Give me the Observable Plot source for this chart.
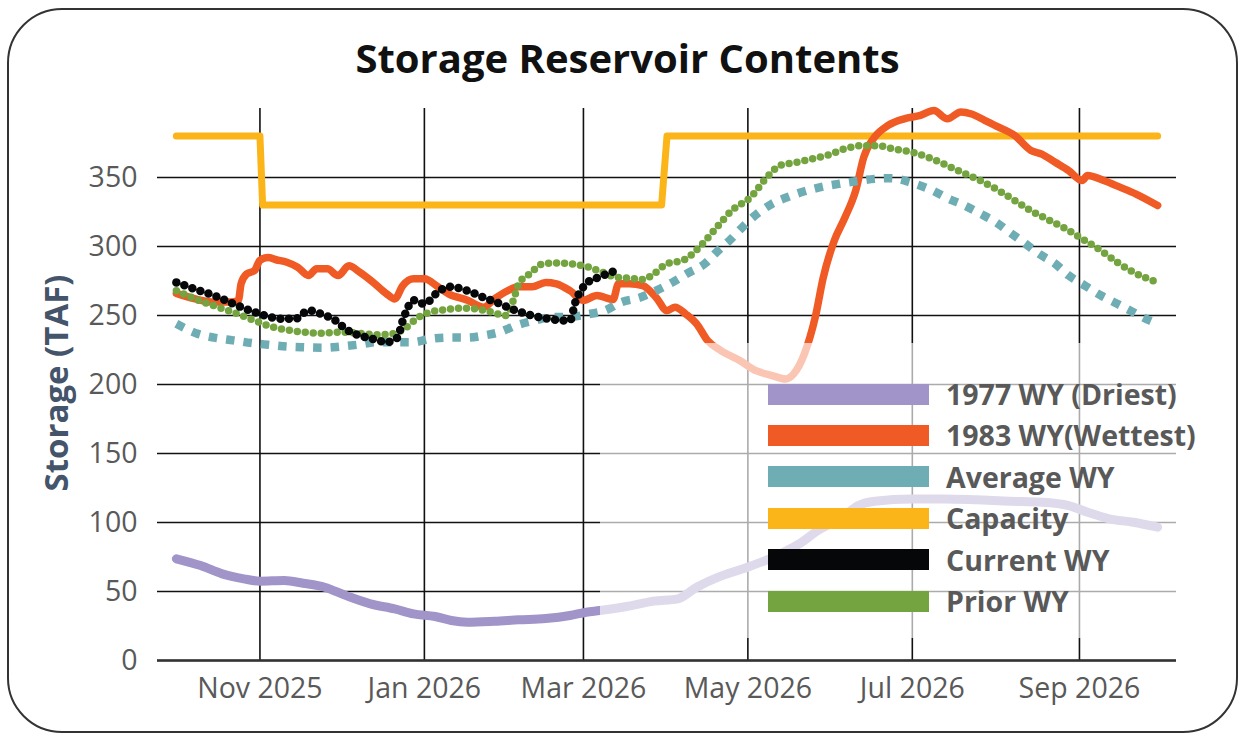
<!DOCTYPE html>
<html>
<head>
<meta charset="utf-8">
<script src="https://cdn.jsdelivr.net/npm/d3@7"></script>
<script src="https://cdn.jsdelivr.net/npm/@observablehq/plot@0.6"></script>
<style>
html, body { margin: 0; padding: 0; background: #fff; }
#wrap { position: relative; width: 1245px; height: 741px; overflow: hidden; font-family: 'Open Sans', sans-serif; }
#frame { position: absolute; left: 7px; top: 8px; width: 1231px; height: 725px; box-sizing: border-box; border: 2px solid #333; border-radius: 55px; }
#chart { position: absolute; left: 0; top: 0; }
#title { position: absolute; left: 5px; width: 1245px; top: 34px; text-align: center; font-size: 40px; line-height: 48px; font-weight: 700; color: #111; }
#ylabel { position: absolute; left: -144px; width: 400px; top: 363px; height: 40px; line-height: 40px; text-align: center; font-size: 33px; font-weight: 700; color: #44546a; transform: rotate(-90deg); transform-origin: 200px 20px; }
#veil { position: absolute; left: 600px; top: 343px; width: 600px; height: 295px; background: rgba(255,255,255,0.65); }
.lrow { position: absolute; left: 768px; height: 30px; display: flex; align-items: center; }
.lsw { width: 161px; height: 21px; margin-right: 17px; }
.ltx { font-size: 28.5px; font-weight: 700; color: #595959; white-space: nowrap; line-height: 30px; }
</style>
</head>
<body>
<div id="wrap">
  <div id="frame"></div>
  <div id="chart"></div>
  <div id="title"></div>
  <div id="ylabel"></div>
  <div id="veil"></div>
  <div id="legend"></div>
</div>
<script>
// ---- text ----
const titleText = "Storage Reservoir Contents";
const yLabelText = "Storage (TAF)";

// ---- tick labels ----
const yTicks = [0, 50, 100, 150, 200, 250, 300, 350];
const xTickDates = ["2025-11-01", "2026-01-01", "2026-03-01", "2026-05-01", "2026-07-01", "2026-09-01"];
const xDomain = ["2025-09-24", "2026-10-07"];

// ---- legend ----
const legendLabels = ["1977 WY (Driest)", "1983 WY(Wettest)", "Average WY", "Capacity", "Current WY", "Prior WY"];
const legendColors = ["#a194c9", "#f05a24", "#6fadb5", "#fbb519", "#050709", "#74a43f"];

// ---- series ----
const capacityDates = ["2025-10-01", "2025-11-01", "2025-11-02", "2026-03-30", "2026-04-01", "2026-09-30"];
const capacityValues = [380, 380, 330, 330, 380, 380];

const driestDates = ["2025-10-01","2025-10-10","2025-10-18","2025-10-26","2025-11-01","2025-11-10","2025-11-17","2025-11-25","2025-12-03","2025-12-12","2025-12-21","2025-12-28","2026-01-05","2026-01-11","2026-01-17","2026-01-27","2026-02-05","2026-02-15","2026-02-24","2026-03-02","2026-03-07","2026-03-17","2026-03-27","2026-04-05","2026-04-12","2026-04-20","2026-04-29","2026-05-09","2026-05-20","2026-05-27","2026-06-05","2026-06-11","2026-06-17","2026-07-01","2026-07-13","2026-07-25","2026-08-06","2026-08-18","2026-08-28","2026-09-04","2026-09-12","2026-09-21","2026-09-30"];
const driestValues = [73.7,68.8,62.8,59.2,57.5,58,56,53.1,47,41,37.4,33.8,31.9,29,27.8,28.5,29.5,30.4,32.6,35,36.2,39.1,43,44.7,53.1,60.4,66.4,73.7,84.5,94.2,103.9,112.3,115.4,117.1,117.1,116.4,115.4,114.7,112.3,107.5,102.7,100.2,96.6];

const wettestDates = ["2025-10-01","2025-10-08","2025-10-15","2025-10-21","2025-10-24","2025-10-25","2025-10-27","2025-10-30","2025-11-01","2025-11-04","2025-11-07","2025-11-11","2025-11-15","2025-11-19","2025-11-22","2025-11-26","2025-11-30","2025-12-04","2025-12-08","2025-12-13","2025-12-18","2025-12-21","2025-12-24","2025-12-28","2026-01-01","2026-01-06","2026-01-10","2026-01-17","2026-01-23","2026-01-27","2026-02-01","2026-02-05","2026-02-10","2026-02-15","2026-02-19","2026-02-24","2026-03-01","2026-03-06","2026-03-12","2026-03-14","2026-03-18","2026-03-23","2026-03-28","2026-04-01","2026-04-04","2026-04-08","2026-04-12","2026-04-16","2026-04-21","2026-04-28","2026-05-04","2026-05-10","2026-05-15","2026-05-18","2026-05-22","2026-05-26","2026-05-29","2026-06-02","2026-06-06","2026-06-10","2026-06-13","2026-06-17","2026-06-22","2026-06-28","2026-07-04","2026-07-09","2026-07-14","2026-07-19","2026-07-23","2026-07-28","2026-08-02","2026-08-08","2026-08-14","2026-08-18","2026-08-23","2026-08-28","2026-09-02","2026-09-04","2026-09-10","2026-09-16","2026-09-22","2026-09-30"];
const wettestValues = [266,262,259.7,259.7,261,273,280,282.6,290,292,290.4,288.6,285,279,283.8,283.8,279,286,281.4,274,265.7,262,271.7,276.6,276.6,270.8,265.7,261,256,262,268,270.8,270.8,274,273,268,261,264.5,261.6,273,273,271.7,263,253.6,256,251,244,232,224.6,217.4,210,206.5,204,207.7,222.4,248.8,277.8,304,321,340.6,364.7,379.2,387.7,392.5,395,398.5,392.5,397.5,396,391.3,386.5,380.4,369.6,367,361,355,347.8,351.4,347.8,343,338,329.7];

const averageDates = ["2025-10-01","2025-10-09","2025-10-15","2025-10-22","2025-10-29","2025-11-04","2025-11-11","2025-11-17","2025-11-25","2025-12-01","2025-12-08","2025-12-14","2025-12-28","2026-01-03","2026-01-10","2026-01-17","2026-01-23","2026-01-29","2026-02-04","2026-02-11","2026-02-17","2026-02-24","2026-03-03","2026-03-09","2026-03-15","2026-03-22","2026-03-28","2026-04-03","2026-04-09","2026-04-15","2026-04-20","2026-04-24","2026-04-29","2026-05-04","2026-05-10","2026-05-16","2026-05-22","2026-05-28","2026-06-04","2026-06-11","2026-06-17","2026-06-23","2026-07-01","2026-07-08","2026-07-14","2026-07-20","2026-07-26","2026-08-01","2026-08-06","2026-08-12","2026-08-17","2026-08-23","2026-08-28","2026-09-03","2026-09-09","2026-09-15","2026-09-21","2026-09-27","2026-09-30"];
const averageValues = [244,236.7,234,232,230,228.8,227.5,227,226.6,227.5,229,230.7,230.7,233,234,234,235.5,238,242.8,246.4,248.8,249,251,253.6,259.6,263,268,274,281,287.5,297,304,314,323,331,336,340,343,345.5,347.5,349,349.5,346,341,335,330,324,317.6,310.4,302,294.7,287.5,279,271.7,264.5,258.5,252.4,246.4,244];

const currentDates = ["2025-10-01","2025-10-08","2025-10-15","2025-10-22","2025-10-30","2025-11-04","2025-11-09","2025-11-14","2025-11-19","2025-11-24","2025-11-29","2025-12-03","2025-12-08","2025-12-13","2025-12-18","2025-12-22","2025-12-24","2025-12-28","2026-01-01","2026-01-06","2026-01-10","2026-01-17","2026-01-23","2026-01-29","2026-02-04","2026-02-10","2026-02-16","2026-02-22","2026-02-24","2026-02-26","2026-03-02","2026-03-07","2026-03-13"];
const currentValues = [274,269,264.5,258.5,252.4,249.3,247.6,247.6,253.6,251,246.4,240,235.5,233,230.7,234,246.4,261,258.5,267,270.8,268,263,258.5,253.6,250,247.6,246.4,246.4,259.6,273,278,282.6];

const priorDates = ["2025-10-01","2025-10-08","2025-10-15","2025-10-22","2025-10-30","2025-11-05","2025-11-11","2025-11-17","2025-11-24","2025-12-01","2025-12-08","2025-12-15","2025-12-20","2025-12-25","2025-12-29","2026-01-03","2026-01-08","2026-01-14","2026-01-20","2026-01-26","2026-01-31","2026-02-03","2026-02-05","2026-02-09","2026-02-14","2026-02-20","2026-02-26","2026-03-03","2026-03-08","2026-03-13","2026-03-18","2026-03-23","2026-03-27","2026-04-01","2026-04-07","2026-04-13","2026-04-19","2026-04-25","2026-05-02","2026-05-08","2026-05-13","2026-05-19","2026-05-25","2026-05-31","2026-06-06","2026-06-12","2026-06-18","2026-06-24","2026-07-01","2026-07-07","2026-07-18","2026-07-26","2026-08-02","2026-08-08","2026-08-14","2026-08-21","2026-08-27","2026-09-01","2026-09-09","2026-09-15","2026-09-21","2026-09-30"];
const priorValues = [268,262,257,252.4,246.4,242,239.6,238,237.2,238,237,236,236.7,241,247.6,252.4,254,255.3,254.8,252.4,250,260.9,273,280,287.5,288,287,285,281.4,277.8,277,276,280,287.5,290,299.5,312.8,326,335.7,350,358.7,361,363.5,366.4,370.8,373,373,370.8,368.3,364.5,355,348,340.6,333.3,326,318.8,312.8,306.8,297,288.6,281.4,274];

// ---- build ----
const rows = (dates, values) => dates.map((d, i) => ({date: new Date(d), value: values[i]}));

const chart = Plot.plot({
  width: 1245,
  height: 741,
  marginTop: 108,
  marginBottom: 81,
  marginLeft: 157,
  marginRight: 69,
  style: {fontFamily: "'Open Sans', sans-serif", fontSize: "28.5px", background: "transparent", overflow: "visible"},
  x: {type: "utc", domain: xDomain.map(d => new Date(d))},
  y: {domain: [0, 400]},
  marks: [
    Plot.gridY(yTicks, {stroke: "#111", strokeOpacity: 1, strokeWidth: 1.6}),
    Plot.gridX(xTickDates.map(d => new Date(d)), {stroke: "#111", strokeOpacity: 1, strokeWidth: 1.6}),
    Plot.ruleY([0], {stroke: "#333", strokeWidth: 2.6}),
    Plot.axisY(yTicks, {tickSize: 0, tickPadding: 20, fontSize: 28.5, fill: "#595959", label: null}),
    Plot.axisX(xTickDates.map(d => new Date(d)), {tickSize: 0, tickPadding: 17, fontSize: 28.5, fill: "#595959", label: null, tickFormat: d3.utcFormat("%b %Y")}),
    Plot.lineY(rows(capacityDates, capacityValues), {x: "date", y: "value", stroke: legendColors[3], strokeWidth: 7, strokeLinecap: "round", strokeLinejoin: "round"}),
    Plot.lineY(rows(driestDates, driestValues), {x: "date", y: "value", stroke: legendColors[0], strokeWidth: 9, strokeLinecap: "round", curve: "monotone-x"}),
    Plot.lineY(rows(wettestDates, wettestValues), {x: "date", y: "value", stroke: legendColors[1], strokeWidth: 7.5, strokeLinecap: "round", strokeLinejoin: "round", curve: "monotone-x"}),
    Plot.lineY(rows(averageDates, averageValues), {x: "date", y: "value", stroke: legendColors[2], strokeWidth: 8.5, strokeDasharray: "8.5 9", strokeLinecap: "butt", curve: "monotone-x"}),
    Plot.lineY(rows(priorDates, priorValues), {x: "date", y: "value", stroke: legendColors[5], strokeWidth: 7.5, strokeDasharray: "0 8", strokeLinecap: "round", curve: "monotone-x"}),
    Plot.lineY(rows(currentDates, currentValues), {x: "date", y: "value", stroke: legendColors[4], strokeWidth: 8.5, strokeDasharray: "0 8.5", strokeLinecap: "round", curve: "monotone-x"})
  ]
});
document.getElementById("chart").appendChild(chart);
document.getElementById("title").textContent = titleText;
document.getElementById("ylabel").textContent = yLabelText;

const legend = document.getElementById("legend");
legendLabels.forEach((lab, i) => {
  const row = document.createElement("div");
  row.className = "lrow";
  row.style.top = (394 - 15 + i * 41.4) + "px";
  const sw = document.createElement("div");
  sw.className = "lsw";
  sw.style.background = legendColors[i];
  const tx = document.createElement("div");
  tx.className = "ltx";
  tx.textContent = lab;
  row.appendChild(sw);
  row.appendChild(tx);
  legend.appendChild(row);
});
</script>
</body>
</html>
